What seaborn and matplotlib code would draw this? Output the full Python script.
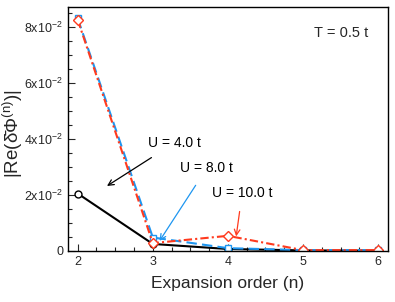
import numpy as np
import pandas as pd
import seaborn as sns
import matplotlib.pyplot as plt
from matplotlib.ticker import MultipleLocator, FuncFormatter

# data
orders = [2, 3, 4, 5, 6]
u4 = [0.0205, 0.0025, 0.0007, 0.0002, 0.0001]
u8 = [0.0830, 0.0048, 0.0010, 0.0003, 0.0003]
u10 = [0.0825, 0.0028, 0.0054, 0.0003, 0.0003]

sns.set_style('white')
plt.rcParams['font.family'] = ['Liberation Sans', 'DejaVu Sans']
plt.rcParams['mathtext.fontset'] = 'custom'
plt.rcParams['mathtext.rm'] = 'Liberation Sans'
plt.rcParams['mathtext.it'] = 'Liberation Sans'

blue = '#1E96F0'
red = '#FF3A1E'

fig = plt.figure(figsize=(3.95, 3.02), dpi=100)
ax = fig.add_axes([0.172, 0.169, 0.81, 0.808])

sns.lineplot(x=orders, y=u4, ax=ax, color='black', lw=1.5, marker='o', ms=5,
             mfc='white', mec='black', mew=1.0)
sns.lineplot(x=orders, y=u8, ax=ax, color=blue, lw=1.5, ls=(0, (5, 2.5)), marker='s', ms=5,
             mfc='white', mec=blue, mew=1.0)
sns.lineplot(x=orders, y=u10, ax=ax, color=red, lw=1.5, ls=(0, (4, 1.5, 1, 1.5)), marker='D', ms=5,
             mfc='white', mec=red, mew=1.0)

ax.set_xlim(1.87, 6.13)
ax.set_ylim(0, 0.0871)
ax.xaxis.set_major_locator(MultipleLocator(1))
ax.xaxis.set_minor_locator(MultipleLocator(0.25))
ax.yaxis.set_major_locator(MultipleLocator(0.02))
ax.yaxis.set_minor_locator(MultipleLocator(0.005))


def fmt(v, pos):
    if abs(v) < 1e-12:
        return '0'
    return r'%dx10$^{-2}$' % round(v * 100)


ax.yaxis.set_major_formatter(FuncFormatter(fmt))
ax.tick_params(which='both', direction='in', bottom=True, left=True, top=False, right=False,
               labelsize=9, width=0.8)
ax.tick_params(which='major', length=5)
ax.tick_params(which='minor', length=3)
for s in ax.spines.values():
    s.set_color('black')
    s.set_linewidth(1.0)

ax.set_xlabel('Expansion order (n)', fontsize=12.5, labelpad=6)
ax.set_ylabel('|Re(\u03b4\u0304\u03a6$^{(n)}$)|', fontsize=13.5)
ax.yaxis.set_label_coords(-0.135, 0.48)

ax.text(0.9375, 0.893, 'T = 0.5 t', transform=ax.transAxes, ha='right', va='center', fontsize=10.5)

ax.annotate('U = 4.0 t', xy=(2.39, 0.0232), xytext=(3.29, 0.0386), ha='center', va='center',
            fontsize=10, color='black',
            arrowprops=dict(arrowstyle='->', color='black', lw=0.9, shrinkA=6, shrinkB=0))
ax.annotate('U = 8.0 t', xy=(3.09, 0.0036), xytext=(3.72, 0.0296), ha='center', va='center',
            fontsize=10, color='black',
            arrowprops=dict(arrowstyle='->', color=blue, lw=0.9, shrinkA=6, shrinkB=0))
ax.annotate('U = 10.0 t', xy=(4.11, 0.0052), xytext=(4.19, 0.0207), ha='center', va='center',
            fontsize=10, color='black',
            arrowprops=dict(arrowstyle='->', color=red, lw=0.9, shrinkA=6, shrinkB=0))

fig.savefig('out.png', dpi=100)
